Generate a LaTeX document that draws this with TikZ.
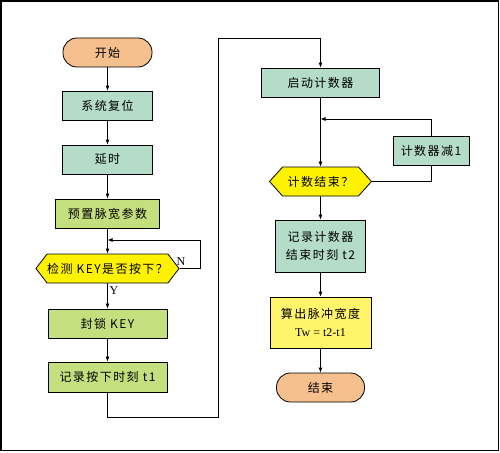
\documentclass[tikz,border=0pt]{standalone}
\usepackage{fontspec}
\setmainfont{Liberation Serif}
\newfontfamily\cjk[LetterSpace=12]{Noto Sans CJK SC}
\usetikzlibrary{arrows.meta,shapes.symbols}
\definecolor{termorange}{HTML}{F6C08E}
\definecolor{procteal}{HTML}{B4DCC8}
\definecolor{procgreen}{HTML}{C4DF7E}
\definecolor{askyellow}{HTML}{FFF200}
\definecolor{calcyellow}{HTML}{FFF46A}
\begin{document}
\begin{tikzpicture}[x=1pt, y=-1pt, line width=0.8pt,
    every node/.style={font=\cjk\fontsize{12}{18}\selectfont},
    >={Latex[length=5pt,width=4pt]}]
  \tikzset{
    term/.style={rectangle, draw, rounded corners=14pt, minimum height=29pt, inner sep=0pt, fill=termorange},
    box/.style={rectangle, draw, minimum height=29pt, inner sep=0pt, fill=procteal},
    ask/.style={signal, signal to=east and west, draw, minimum height=29pt, inner sep=0pt, fill=askyellow},
    lbl/.style={font=\rmfamily\fontsize{12}{14}\selectfont, inner sep=0pt}
  }
  \useasboundingbox (0,0) rectangle (500,452);
  \draw[line width=1.4pt] (1,1) rectangle (498.6,450.6);
  % left column
  \node[term, minimum width=89pt] (start) at (107.5,52.5) {开始};
  \node[box, minimum width=90pt] (reset) at (107.5,105.5) {系统复位};
  \node[box, minimum width=90pt] (delay) at (107.5,159.5) {延时};
  \node[box, fill=procgreen, minimum width=104pt] (preset) at (107.5,213.5) {预置脉宽参数};
  \node[ask, minimum width=137pt, signal pointer angle=105] (check) at (107.5,268.5) {检测 KEY是否按下？};
  \node[box, fill=procgreen, minimum width=119pt] (lock) at (107.5,323.5) {封锁 KEY};
  \node[box, fill=procgreen, minimum width=119pt, minimum height=30pt] (rec1) at (107.5,377) {记录按下时刻 t1};
  \node[lbl] (nlbl) at (181,262) {N};
  \node[lbl] (ylbl) at (114,291) {Y};
  % right column
  \node[box, minimum width=118pt] (startcnt) at (320.5,82.5) {启动计数器};
  \node[box, minimum width=76pt] (dec) at (431,150.5) {计数器减1};
  \node[ask, minimum width=102pt, signal pointer angle=96] (cntdone) at (320.5,181.5) {计数结束？};
  \node[box, minimum width=90pt, minimum height=52pt, align=center] (rec2) at (320.5,246) {记录计数器\\结束时刻 t2};
  \node[box, fill=calcyellow, minimum width=101pt, minimum height=51pt, align=center] (calc) at (320.5,322.5)
    {算出脉冲宽度\\\rmfamily\fontsize{12}{18}\selectfont Tw = t2-t1};
  \node[term, minimum width=88pt] (stop) at (320.5,387.5) {结束};
  \coordinate (loopin) at (107.5,240);
  \coordinate (nturn) at (200,240);
  \coordinate (lowturn) at (218,417);
  \coordinate (topturn) at (218,38);
  \coordinate (cntin) at (320.5,119);
  \draw[->] (start) -- (reset);
  \draw[->] (reset) -- (delay);
  \draw[->] (delay) -- (preset);
  \draw[->] (preset) -- (check);
  \draw[->] (check.east) -| (nturn) -- (loopin);
  \draw[->] (check) -- (lock);
  \draw[->] (lock) -- (rec1);
  \draw[->] (rec1.south) |- (lowturn) -- (topturn) -| (startcnt.north);
  \draw[->] (startcnt) -- (cntdone);
  \draw (cntdone.east) -| (dec.south);
  \draw[->] (dec.north) |- (cntin);
  \draw[->] (cntdone) -- (rec2);
  \draw[->] (rec2) -- (calc);
  \draw[->] (calc) -- (stop);
\end{tikzpicture}
\end{document}
